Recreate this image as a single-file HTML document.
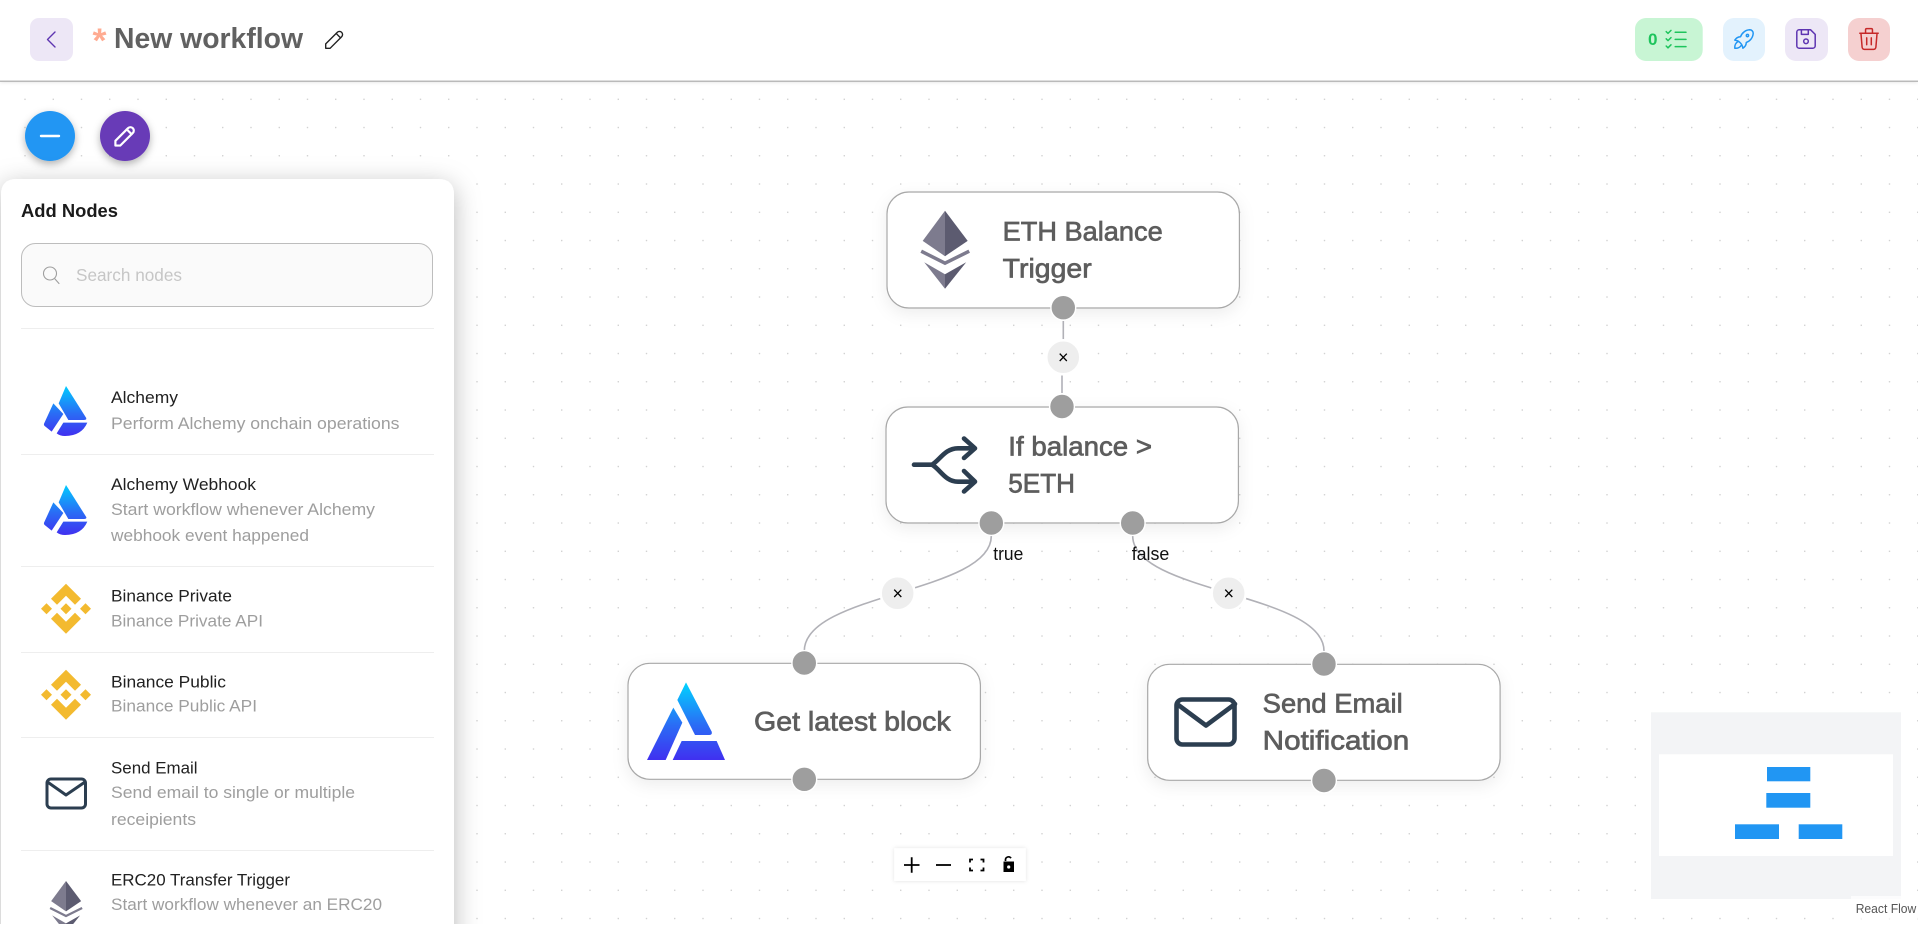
<!DOCTYPE html>
<html>
<head>
<meta charset="utf-8">
<title>New workflow</title>
<style>
html,body{margin:0;padding:0;background:#fff;width:1918px;height:929px;overflow:hidden}
svg{display:block;font-family:"Liberation Sans",sans-serif}
.t{font-size:17px;fill:#212121}
.s{font-size:17px;fill:#9e9e9e}
.n{font-size:27px;fill:#5d5d5d;stroke:#5d5d5d;stroke-width:.7}
.ic{fill:none;stroke-linecap:round;stroke-linejoin:round}
</style>
</head>
<body>
<svg width="1918" height="929" viewBox="0 0 1918 929" xmlns="http://www.w3.org/2000/svg">
<defs>
<pattern id="dots" patternUnits="userSpaceOnUse" x="10.875" y="85.175" width="28.25" height="28.25">
<circle cx="14.125" cy="14.125" r=".7" fill="#c8c8c8"/>
</pattern>
<filter id="ps" x="-20%" y="-10%" width="140%" height="120%"><feDropShadow dx="0" dy="6" stdDeviation="13" flood-color="#000" flood-opacity=".28"/></filter>
<filter id="ns" x="-15%" y="-30%" width="130%" height="170%"><feDropShadow dx="0" dy="5" stdDeviation="8" flood-color="#000" flood-opacity=".07"/></filter>
<filter id="fs" x="-40%" y="-40%" width="180%" height="200%"><feDropShadow dx="0" dy="3" stdDeviation="4" flood-color="#000" flood-opacity=".3"/></filter>
<filter id="cs" x="-10%" y="-20%" width="120%" height="150%"><feDropShadow dx="0" dy="0" stdDeviation="2" flood-color="#000" flood-opacity=".12"/></filter>
<filter id="hs" x="-2%" y="-50%" width="104%" height="250%"><feDropShadow dx="0" dy="1" stdDeviation="2" flood-color="#000" flood-opacity=".12"/></filter>
<linearGradient id="ag" gradientUnits="userSpaceOnUse" x1="0" y1="138" x2="0" y2="288"><stop offset="0" stop-color="#00ccff"/><stop offset=".55" stop-color="#2a6cf5"/><stop offset="1" stop-color="#4030f0"/></linearGradient>
<linearGradient id="ag2" gradientUnits="userSpaceOnUse" x1="0" y1="547" x2="0" y2="780"><stop offset="0" stop-color="#00d4ff"/><stop offset=".55" stop-color="#2a6cf5"/><stop offset="1" stop-color="#4030f0"/></linearGradient>
<clipPath id="pc"><rect x="0" y="82" width="1918" height="842"/></clipPath>
<g id="alc">
<path d="M198 138L258 233Q262 240 252 240H205L176 190Z" fill="url(#ag)"/>
<path d="M160 190L190 222L155 275L134 258Q130 254 133 249Z" fill="url(#ag)"/>
<path d="M190 248H262Q245 288 195 288Q180 288 170 280Z" fill="url(#ag)"/>
</g>
<g id="bin" fill="#f3ba2f">
<path d="M0-25L15-10L9-4L0-13L-9-4L-15-10Z"/>
<path d="M0 25L15 10L9 4L0 13L-9 4L-15 10Z"/>
<path d="M-25 0L-19.5-5.5L-14 0L-19.5 5.5Z"/>
<path d="M25 0L19.5-5.5L14 0L19.5 5.5Z"/>
<path d="M0-5.5L5.5 0L0 5.5L-5.5 0Z"/>
</g>
<g id="eth">
<path d="M22.3 0L0 30.2L22.3 45.5Z" fill="#7d7b8e"/>
<path d="M22.3 0L45 30.2L22.3 45.5Z" fill="#5c5b70"/>
<path d="M-1.5 40.5L22.3 52.5L46.5 40.5" fill="none" stroke="#7d7b8e" stroke-width="3.5"/>
<path d="M1.5 51.5L22.3 63.5V78Z" fill="#7d7b8e"/>
<path d="M43.5 51.5L22.3 63.5V78Z" fill="#5c5b70"/>
</g>
</defs>

<rect width="1918" height="929" fill="#fff"/>
<rect x="0" y="82" width="1918" height="842" fill="url(#dots)"/>

<!-- edges -->
<g fill="none" stroke="#b1b1b7" stroke-width="1.6">
<path d="M1063.3 321V340"/>
<path d="M1062 375V393"/>
<path d="M991.3 536C991.3 593 804.3 593 804.3 651"/>
<path d="M1132.7 536C1132.7 593 1324 593 1324 651"/>
</g>

<!-- edge labels -->
<text x="993.3" y="560" font-size="18" fill="#111" textLength="30" lengthAdjust="spacingAndGlyphs">true</text>
<text x="1131.7" y="560" font-size="18" fill="#111" textLength="37.6" lengthAdjust="spacingAndGlyphs">false</text>

<!-- edge buttons -->
<g fill="#eee" stroke="#fff" stroke-width="2.5">
<circle cx="1063.3" cy="357.3" r="17"/>
<circle cx="897.7" cy="593.3" r="17"/>
<circle cx="1228.7" cy="593.3" r="17"/>
</g>
<g font-size="18" fill="#000" text-anchor="middle">
<text x="1063.3" y="363.3">×</text>
<text x="897.7" y="599.3">×</text>
<text x="1228.7" y="599.3">×</text>
</g>

<!-- nodes -->
<g fill="#fff" stroke="#a8a8a8" stroke-width="1.2" filter="url(#ns)">
<rect x="887" y="192" width="352.4" height="116" rx="22"/>
</g>
<g fill="#fff" stroke="#a8a8a8" stroke-width="1.2" filter="url(#ns)">
<rect x="886" y="407" width="352.4" height="116" rx="22"/>
</g>
<g fill="#fff" stroke="#a8a8a8" stroke-width="1.2" filter="url(#ns)">
<rect x="628" y="663.3" width="352.4" height="116" rx="22"/>
</g>
<g fill="#fff" stroke="#a8a8a8" stroke-width="1.2" filter="url(#ns)">
<rect x="1147.7" y="664.3" width="352.4" height="116" rx="22"/>
</g>

<text class="n" x="1002.7" y="240.7" textLength="160" lengthAdjust="spacingAndGlyphs">ETH Balance</text>
<text class="n" x="1002.7" y="277.3" textLength="89" lengthAdjust="spacingAndGlyphs">Trigger</text>
<text class="n" x="1008.3" y="455.3" textLength="143.7" lengthAdjust="spacingAndGlyphs">If balance &gt;</text>
<text class="n" x="1008.3" y="492.3" textLength="66.7" lengthAdjust="spacingAndGlyphs">5ETH</text>
<text class="n" x="754" y="730.7" textLength="196.7" lengthAdjust="spacingAndGlyphs">Get latest block</text>
<text class="n" x="1262.7" y="712.6" textLength="140" lengthAdjust="spacingAndGlyphs">Send Email</text>
<text class="n" x="1262.7" y="749.3" textLength="146.6" lengthAdjust="spacingAndGlyphs">Notification</text>

<!-- node icons -->
<use href="#eth" x="922.7" y="210.7"/>
<g fill="none" stroke="#2c3e50" stroke-width="4.6" stroke-linecap="round" stroke-linejoin="round">
<path d="M914 464.7H932C940 460 945 448.3 958 448.3H973"/>
<path d="M932 464.7C940 469 945 481.7 958 481.7H973"/>
<path d="M964 438.5L975 448.3L964 458"/>
<path d="M964 471L975 481.7L964 491.5"/>
<rect x="1176.5" y="699.5" width="58" height="45" rx="6"/>
<path d="M1177 704L1206 725.5L1235 704"/>
</g>
<g transform="translate(600 500) scale(.33333)">
<path d="M258 547L335 695Q338 705 328 705H285L232 600Z" fill="url(#ag2)"/>
<path d="M220 623L247 668L197 780H141Z" fill="url(#ag2)"/>
<path d="M245 723H350L375 780H218Z" fill="url(#ag2)"/>
</g>

<!-- handles -->
<g fill="#9e9e9e" stroke="#fff" stroke-width="1.4">
<circle cx="1063.3" cy="307.7" r="12.4"/>
<circle cx="1062" cy="406.5" r="12.4"/>
<circle cx="991.3" cy="523" r="12.4"/>
<circle cx="1132.7" cy="523" r="12.4"/>
<circle cx="804.3" cy="663" r="12.4"/>
<circle cx="804.3" cy="779.3" r="12.4"/>
<circle cx="1324" cy="664" r="12.4"/>
<circle cx="1324" cy="780.5" r="12.4"/>
</g>

<!-- controls -->
<rect x="894.3" y="848.3" width="131.4" height="32.7" fill="#fff" filter="url(#cs)"/>
<g stroke="#000" stroke-width="1.8" fill="none">
<path d="M904 865H919.5M911.7 857.3V872.7"/>
<path d="M936 865H951"/>
<path d="M970 862.5V859.5H973M980.5 859.5H983.5V862.5M983.5 867.5V870.5H980.5M973 870.5H970V867.5"/>
<path d="M1005.5 861V860A3 3 0 0 1 1011 858.2" stroke-width="1.7"/>
</g>
<path d="M1003.5 861.5H1014V872H1003.5Z" fill="#000"/>
<circle cx="1008.7" cy="867" r="1.6" fill="#fff"/>

<!-- minimap -->
<rect x="1651" y="712.3" width="250" height="186.7" fill="#f3f4f6"/>
<rect x="1659" y="754.3" width="234" height="101.7" fill="#fff"/>
<g fill="#2196f3">
<rect x="1767" y="767" width="43.3" height="14.3"/>
<rect x="1766.3" y="793" width="44" height="14.7"/>
<rect x="1735" y="824.3" width="44" height="14.7"/>
<rect x="1798.7" y="824.3" width="43.6" height="14.7"/>
</g>
<rect x="1851" y="896" width="67" height="23" fill="#fff" fill-opacity=".75"/>
<text x="1855.7" y="913" font-size="12.5" fill="#555" textLength="60.6" lengthAdjust="spacingAndGlyphs">React Flow</text>

<!-- header -->
<rect x="0" y="0" width="1918" height="81" fill="#fff" filter="url(#hs)"/>
<rect x="0" y="80.6" width="1918" height="1.2" fill="#adadad"/>
<rect x="30" y="18" width="43" height="43" rx="9" fill="#ede7f6"/>
<path d="M55 32L47.5 39.5L55 47" class="ic" stroke="#5e35b1" stroke-width="1.4"/>
<text x="92.5" y="52" font-size="34" font-weight="700" fill="#ffab91" textLength="14" lengthAdjust="spacingAndGlyphs">*</text>
<text x="114" y="48" font-size="29" font-weight="700" fill="#616161" textLength="189" lengthAdjust="spacingAndGlyphs">New workflow</text>
<g transform="translate(334.5 39.5) scale(1.1) translate(-12 -12)" class="ic" stroke="#222" stroke-width="1.25">
<path d="M4 20h4l10.5-10.5a2.828 2.828 0 1 0-4-4l-10.5 10.5v4"/><path d="M13.5 6.5l4 4"/>
</g>

<rect x="1635" y="18" width="67.7" height="43" rx="11" fill="#c8f5d4"/>
<text x="1648" y="45" font-size="17" font-weight="700" fill="#1ec45c" textLength="9.5" lengthAdjust="spacingAndGlyphs">0</text>
<g transform="translate(1662 25) scale(1.2)" class="ic" stroke="#1ec45c" stroke-width="1.25"><path d="M3.5 5.5l1.5 1.5l2.5-2.5M3.5 11.5l1.5 1.5l2.5-2.5M3.5 17.5l1.5 1.5l2.5-2.5M11 6h9M11 12h9M11 18h9"/></g>

<rect x="1723" y="18" width="42" height="43" rx="11" fill="#e3f2fd"/>
<g transform="translate(1744 39) scale(1.15) translate(-12 -12)" class="ic" stroke="#2196f3" stroke-width="1.3"><path d="M4 13a8 8 0 0 1 7 7a6 6 0 0 0 3-5a9 9 0 0 0 6-8a3 3 0 0 0-3-3a9 9 0 0 0-8 6a6 6 0 0 0-5 3"/><path d="M7 14a6 6 0 0 0-3 6a6 6 0 0 0 6-3"/><circle cx="15" cy="9" r="1"/></g>

<rect x="1785" y="18" width="43" height="43" rx="11" fill="#ede7f6"/>
<g transform="translate(1806 39) scale(1.15) translate(-12 -12)" class="ic" stroke="#5e35b1" stroke-width="1.3"><path d="M6 4h10l4 4v10a2 2 0 0 1-2 2h-12a2 2 0 0 1-2-2v-12a2 2 0 0 1 2-2"/><circle cx="12" cy="14" r="2"/><path d="M14 4v4h-6v-4"/></g>

<rect x="1848" y="18" width="42" height="43" rx="11" fill="#f5d0d0"/>
<g transform="translate(1869 39) scale(1.15) translate(-12 -12)" class="ic" stroke="#c62828" stroke-width="1.3"><path d="M4 7h16M10 11v6M14 11v6M5 7l1 12a2 2 0 0 0 2 2h8a2 2 0 0 0 2-2l1-12M9 7v-3a1 1 0 0 1 1-1h4a1 1 0 0 1 1 1v3"/></g>

<!-- FABs -->
<circle cx="50" cy="136" r="25" fill="#2196f3" filter="url(#fs)"/>
<path d="M41 136H59" stroke="#fff" stroke-width="2.4" stroke-linecap="round"/>
<circle cx="125" cy="136" r="25" fill="#673ab7" filter="url(#fs)"/>
<g transform="translate(125 136) scale(1.2) translate(-12 -12)" class="ic" stroke="#fff" stroke-width="1.8"><path d="M4 20h4l10.5-10.5a2.828 2.828 0 1 0-4-4l-10.5 10.5v4"/><path d="M13.5 6.5l4 4"/></g>

<!-- panel -->
<g clip-path="url(#pc)">
<path d="M1 195Q1 179 17 179H438Q454 179 454 195V960H1Z" fill="#fff" filter="url(#ps)"/>
<text x="21" y="217" font-size="18" font-weight="700" fill="#1a1a1a" textLength="97" lengthAdjust="spacingAndGlyphs">Add Nodes</text>
<rect x="21.5" y="243.5" width="411" height="63" rx="14" fill="#fafafa" stroke="#bdbdbd"/>
<g fill="none" stroke="#9e9e9e" stroke-width="1.1" stroke-linecap="round"><circle cx="50" cy="273.5" r="6.5"/><path d="M55 279L59 283.5"/></g>
<text x="76" y="281" font-size="17.5" fill="#c6c6c6" textLength="106" lengthAdjust="spacingAndGlyphs">Search nodes</text>

<g fill="#eee">
<rect x="21" y="328" width="413" height="1"/>
<rect x="21" y="454" width="413" height="1"/>
<rect x="21" y="566" width="413" height="1"/>
<rect x="21" y="652" width="413" height="1"/>
<rect x="21" y="737" width="413" height="1"/>
<rect x="21" y="850" width="413" height="1"/>
</g>

<g transform="scale(.33333) translate(0 1020)"><use href="#alc"/></g>
<g transform="translate(0 99) scale(.33333) translate(0 1020)"><use href="#alc"/></g>
<use href="#bin" x="66" y="608.7"/>
<use href="#bin" x="66" y="694.7"/>
<rect x="47" y="779" width="38.5" height="29" rx="4" fill="none" stroke="#2c3e50" stroke-width="3"/>
<path d="M47.5 782L66 795L85 782" fill="none" stroke="#2c3e50" stroke-width="3" stroke-linejoin="round"/>
<g transform="translate(66 881) scale(.66667) translate(-22.3 0)"><use href="#eth"/></g>

<text class="t" x="111" y="403" textLength="67" lengthAdjust="spacingAndGlyphs">Alchemy</text>
<text class="s" x="111" y="429" textLength="288.5" lengthAdjust="spacingAndGlyphs">Perform Alchemy onchain operations</text>
<text class="t" x="111" y="490" textLength="145" lengthAdjust="spacingAndGlyphs">Alchemy Webhook</text>
<text class="s" x="111" y="515" textLength="264" lengthAdjust="spacingAndGlyphs">Start workflow whenever Alchemy</text>
<text class="s" x="111" y="541" textLength="198" lengthAdjust="spacingAndGlyphs">webhook event happened</text>
<text class="t" x="111" y="601.7" textLength="121" lengthAdjust="spacingAndGlyphs">Binance Private</text>
<text class="s" x="111" y="626.7" textLength="152" lengthAdjust="spacingAndGlyphs">Binance Private API</text>
<text class="t" x="111" y="687.7" textLength="115" lengthAdjust="spacingAndGlyphs">Binance Public</text>
<text class="s" x="111" y="711.7" textLength="146" lengthAdjust="spacingAndGlyphs">Binance Public API</text>
<text class="t" x="111" y="773.3" textLength="86.5" lengthAdjust="spacingAndGlyphs">Send Email</text>
<text class="s" x="111" y="798" textLength="244" lengthAdjust="spacingAndGlyphs">Send email to single or multiple</text>
<text class="s" x="111" y="825" textLength="85" lengthAdjust="spacingAndGlyphs">receipients</text>
<text class="t" x="111" y="885.7" textLength="179" lengthAdjust="spacingAndGlyphs">ERC20 Transfer Trigger</text>
<text class="s" x="111" y="910" textLength="271" lengthAdjust="spacingAndGlyphs">Start workflow whenever an ERC20</text>
<text class="s" x="111" y="936" textLength="188" lengthAdjust="spacingAndGlyphs">transfer event happened</text>
</g>
</svg>
</body>
</html>
